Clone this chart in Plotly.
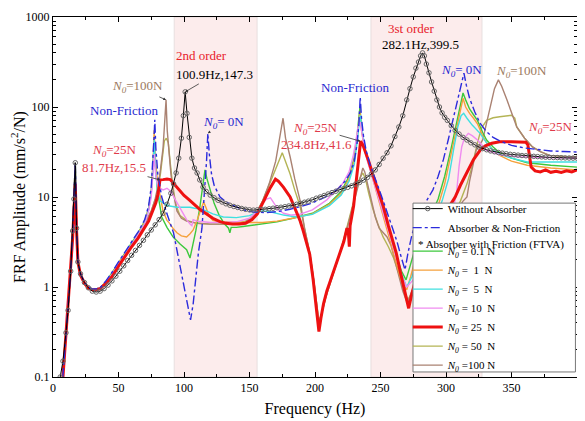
import plotly.graph_objects as go

# ---------------- data ----------------
# shared low-frequency segment of the absorber curves
f_low = [7.5, 9.9, 11.5, 13.5, 15, 16, 17, 18, 19, 21, 24, 27, 30, 33, 36]
a_low = [0.1, 0.31, 0.55, 1.5, 4.2, 9.5, 24, 4.5, 1.9, 1.4, 1.12, 1.0, 0.95, 0.95, 0.98]

f_without = [5.5, 7.6, 9.9, 11.5, 13.5, 15, 16, 17, 18, 19, 21, 24, 27, 30, 33, 36, 39, 42, 45, 48,
             51, 54, 57, 60, 63, 66, 69, 72, 75, 78, 81, 84, 87, 90, 92, 94, 96, 98, 99.5, 100.9,
             102.3, 104, 106, 108, 110, 112, 114.5, 117, 120, 123, 126, 129, 132, 135, 138, 141, 144, 147, 150, 153,
             156, 159, 162, 165, 168, 171, 174, 177, 180, 183, 186, 189, 192, 195, 198, 201, 204, 207, 210, 213,
             216, 219, 222, 225, 228, 231, 234, 237, 240, 243, 246, 249, 252, 255, 258, 261, 264, 267, 270, 272.5,
             275, 277, 279, 280.6, 282.1, 283.5, 285, 287, 289, 291, 293, 295, 297, 299, 301, 304, 307, 310, 313, 316,
             319, 322, 325, 328, 331, 334, 337, 340, 343, 346, 349, 352, 355, 358, 361, 364, 367, 370, 373, 376,
             379, 382, 385, 388, 391, 394, 397, 400]
a_without = [0.1, 0.15, 0.31, 0.55, 1.5, 4.2, 9.5, 24, 4.5, 1.9, 1.4, 1.12, 0.98, 0.9, 0.88, 0.9, 0.96, 1.05, 1.17, 1.32,
             1.5, 1.72, 1.97, 2.25, 2.55, 2.9, 3.3, 3.8, 4.3, 4.9, 5.6, 6.6, 8.3, 11, 14, 18.5, 27, 45, 80, 147.3,
             85, 46, 27, 21, 18.5, 15.5, 12.9, 11.5, 10.5, 9.8, 9.2, 8.8, 8.4, 8.1, 7.85, 7.65, 7.45, 7.3, 7.2, 7.15,
             7.2, 7.25, 7.3, 7.4, 7.5, 7.6, 7.7, 7.8, 7.95, 8.1, 8.3, 8.5, 8.75, 9.0, 9.3, 9.7, 10.0, 10.4, 10.8, 11.2,
             11.6, 12.0, 12.4, 12.8, 13.3, 13.9, 14.5, 15.4, 16.5, 18, 20, 23, 27, 31, 37, 47, 60, 80, 120, 160,
             216, 270, 316, 370, 399.5, 370, 300, 240, 190, 150, 120, 100, 86, 77, 71, 62, 55, 50, 46, 43,
             40, 38, 36, 34.5, 33.5, 32.5, 31.8, 31.2, 30.7, 30.2, 29.8, 29.5, 29.2, 28.9, 28.7, 28.5, 28.3, 28.1, 27.9, 27.7,
             27.6, 27.5, 27.4, 27.3, 27.2, 27.1, 27.05, 27]

f_nonfric = [40, 45, 50, 55, 60, 65, 70, 73, 75, 76.3, 77.2, 77.7, 78.5, 80, 83, 87, 92, 95, 98, 101,
             103, 105, 107, 109, 111, 113.7, 116, 117.2, 118.2, 119.3, 121, 123, 127.5, 132, 137, 145, 153, 163, 172, 181,
             190, 196, 204, 211, 218, 223, 227, 230, 232, 233.5, 234.5, 235.5, 237, 239, 242, 246, 250, 254, 258, 262.6,
             266, 268.7, 271, 274, 278, 284, 290, 294, 298, 302, 305.5, 309, 311.5, 313.7, 315.5, 318, 322, 326, 331, 336,
             341, 350, 360, 370, 380, 390, 400]
a_nonfric = [1.15, 1.45, 1.9, 2.45, 3.15, 4.1, 5.6, 8, 13, 25, 48, 72, 35, 18, 10, 6.5, 4, 2.4, 1.4, 0.85,
             0.6, 0.43, 0.65, 1.2, 2.4, 4.5, 12, 25, 51, 30, 18, 13.5, 10, 8.8, 8.1, 7.2, 6.8, 6.7, 6.9, 7.3,
             7.9, 8.4, 9.4, 10.5, 12.5, 15, 18.5, 25, 38, 65, 129, 75, 48, 33, 23, 15.5, 11, 7.5, 5, 3.2,
             2.1, 1.55, 2.4, 3.8, 6, 8.5, 12, 17, 26, 45, 75, 125, 170, 238, 175, 125, 88, 66, 53, 46,
             42, 37.5, 35, 33.5, 32.5, 32, 31.6]

f_n01 = [40, 45, 50, 55, 60, 65, 70, 73, 75, 76.3, 77.2, 78.2, 79.5, 81, 83, 87, 91.6, 97, 102, 104.6,
         106.5, 109, 112, 114.5, 116, 117.5, 120, 123, 127, 131, 134, 135, 136, 140, 145, 150, 160, 171, 183, 198,
         211, 220, 226, 230, 232.5, 234.3, 235.5, 237.5, 240, 243, 246, 250, 254, 258, 262, 266, 269.5, 273, 278, 284,
         289, 294, 299, 304, 308, 311, 313, 315, 318, 321, 324, 328, 331, 336, 341, 350, 362, 380, 400]
a_n01 = [1.12, 1.42, 1.85, 2.4, 3.05, 4.0, 5.4, 7.5, 11.5, 20, 36, 22, 13, 9, 6, 4.6, 3.6, 3.0, 2.6, 2.1,
         2.8, 4.2, 7.5, 14, 20, 16, 12, 8.5, 6.2, 5.0, 4.5, 4.0, 4.6, 4.6, 4.7, 4.8, 5.0, 5.3, 5.8, 6.6,
         8.5, 11.5, 17, 28, 55, 100, 60, 38, 27, 19, 13.5, 9, 6, 3.8, 2.3, 1.5, 1.2, 1.8, 3.2, 4.8,
         6.5, 9.5, 17, 35, 65, 105, 143, 120, 95, 82, 71, 52, 43, 36, 31, 27, 24, 22.5, 21.5]

f_n1 = [40, 45, 50, 55, 60, 65, 70, 73, 75, 76.3, 77.2, 78.3, 80, 82, 84, 87, 89, 92, 94.6, 98,
        102, 104.6, 107, 110, 113, 115, 117, 119, 122, 126, 130, 140, 150, 160, 171, 183, 198, 211, 220, 226,
        230, 232.5, 234.3, 235.5, 237.5, 240, 243, 246, 250, 254, 258, 262, 266, 270, 273, 278, 284, 289, 294, 299,
        304, 308, 311, 313, 315, 318, 321, 324, 328, 331, 336, 341, 350, 362, 380, 400]
a_n1 = [1.12, 1.4, 1.85, 2.35, 3.0, 3.95, 5.3, 7.4, 11.5, 22, 55, 25, 14, 10, 7, 5.5, 5.1, 4.4, 4.0, 3.7,
        3.6, 3.9, 4.3, 5.5, 7.5, 8.8, 7.5, 6.2, 5.5, 5.3, 5.3, 5.2, 5.2, 5.2, 5.4, 5.8, 6.5, 8.3, 11, 16,
        26, 50, 90, 55, 36, 26, 18, 12.5, 8, 5, 3, 1.8, 1.15, 0.93, 1.3, 2.5, 4, 5.5, 8, 14,
        30, 60, 95, 125, 100, 85, 75, 65, 48, 40, 33, 29, 25, 22.5, 21, 20]

f_n5 = [40, 45, 50, 55, 60, 65, 70, 73, 75, 76.3, 77.3, 78.3, 80, 82, 84, 88, 94.6, 100, 104.6, 108,
        112, 117, 122, 130, 140, 150, 158, 165, 176, 186, 198, 211, 220, 226, 230, 232.5, 234.5, 236, 238, 240,
        243, 246, 250, 254, 258, 262, 266, 270, 274, 280, 286, 292, 297, 302, 306, 309, 311.5, 313.5, 316, 320,
        326, 331, 336, 341, 350, 362, 380, 400]
a_n5 = [1.1, 1.38, 1.8, 2.3, 2.95, 3.85, 5.1, 7.2, 11, 20, 43, 20, 11, 9, 8.6, 8, 7.7, 7.7, 7.7, 7.5,
        7.4, 7, 6.5, 6.0, 5.9, 6.2, 7.0, 6.9, 6.3, 6.0, 6.4, 8, 10.5, 15, 23, 45, 81, 55, 36, 27,
        19, 13.5, 9, 5.8, 3.6, 2.2, 1.4, 1.0, 1.3, 2.3, 3.8, 6, 9, 16, 35, 60, 80, 85, 75, 63,
        51, 40, 33, 30, 27, 24.5, 24.5, 24.5]

f_n10 = [40, 45, 50, 55, 60, 65, 70, 73, 75, 76.3, 77.3, 78.3, 80, 82, 84, 87, 90, 94, 98, 102,
         104.6, 106, 107, 110, 115, 120, 130, 140, 150, 156, 160, 163, 166, 169, 172, 176, 182, 188, 198, 209,
         221, 226, 229, 231, 233, 234.5, 236, 238, 240, 243, 246, 250, 254, 258, 262, 266, 270, 275, 285, 295,
         303, 306, 308, 310, 312, 314, 317, 320, 324, 331, 341, 354, 370, 400]
a_n10 = [1.1, 1.37, 1.78, 2.28, 2.9, 3.8, 5.0, 7.0, 10, 17, 30, 18, 13, 12.5, 12, 12.5, 11.5, 9, 7, 5.6,
         5.0, 4.8, 5.6, 5.4, 5.3, 5.2, 5.2, 5.3, 5.8, 7, 8.5, 9.5, 9.8, 8.5, 7.2, 6.6, 6.3, 6.4, 7.2, 9.3,
         14, 19, 28, 40, 62, 68, 48, 33, 25, 18, 12.5, 8.5, 5.5, 3.4, 2.1, 1.35, 1.0, 1.2, 2.0, 3.5,
         5.5, 8, 11, 22, 36, 45, 51, 48, 43, 33, 29.5, 28, 27.5, 27]

f_n25 = [7.6, 9.9, 11.5, 13.5, 15, 16, 17, 18, 19, 21, 24, 27, 30, 33, 36, 40, 45, 50, 55, 60,
         65, 70, 73, 75, 77, 78.5, 80, 81.7, 84, 87, 89.5, 91.5, 94, 97, 100, 104, 108, 112, 117, 122,
         127, 132, 137, 142, 147, 152, 156, 160, 163, 166, 169.8, 172, 176, 181, 185, 188.5, 191, 194, 196, 198.6,
         200.5, 202, 203, 204.5, 206.5, 209, 212, 215, 219, 222, 224.4, 225.5, 226.2, 226.8, 228, 229.5, 231, 232.5, 233.8, 234.8,
         236.5, 238.5, 241, 244, 248, 252, 256, 259, 262, 265, 268, 271.5, 274, 278, 283, 288, 294, 300, 304, 307,
         311, 316, 321, 326, 330, 335, 341, 350, 356, 361, 362.5, 364, 365, 368, 372, 376, 380, 384, 388, 392,
         396, 400]
a_n25 = [0.1, 0.3, 0.55, 1.4, 3.5, 7, 14, 4.2, 1.9, 1.35, 1.1, 0.97, 0.93, 0.93, 0.96, 1.08, 1.3, 1.7, 2.2, 2.8,
         3.5, 4.5, 5.4, 6.4, 7.4, 8.6, 10.5, 15.5, 15.6, 15.8, 15.6, 14.5, 13, 11.6, 10.4, 9.3, 8.2, 7.3, 6.5, 5.8,
         5.35, 5.1, 5.0, 5.0, 5.1, 5.6, 6.5, 8.6, 10.5, 12.8, 15.8, 15, 12.8, 10, 7.3, 5.5, 4.2, 3.0, 2.3, 1.2,
         0.7, 0.45, 0.32, 0.45, 0.65, 0.9, 1.2, 1.6, 2.3, 3.2, 4.5, 4.0, 2.8, 4.8, 6, 8, 13, 22, 35, 41.6,
         38, 32, 25, 18, 12, 8, 4.8, 3.3, 2.4, 1.5, 0.95, 0.58, 0.85, 1.4, 2.2, 3.3, 4.8, 6.5, 8.5, 10,
         13.5, 18.5, 26, 33, 37, 39.5, 41, 41, 41, 40.5, 38, 26, 21.5, 19.5, 19, 20, 18.8, 19.3, 18.7, 19.5,
         19, 20]

f_n50 = [40, 45, 50, 55, 60, 65, 70, 75, 78, 80, 82, 83.5, 85, 86.5, 88, 89.5, 91.5, 94, 97, 102,
         110, 120, 130, 140, 147, 152, 156, 160, 165, 168, 171, 173, 175, 177, 179, 181, 184.5, 188.5, 192, 196,
         199, 201, 203, 205, 208, 212, 216, 220, 224, 228, 231, 234, 236.5, 238.5, 241, 244, 248, 252, 256, 260,
         264, 268, 271, 276, 284, 294, 304, 311, 316, 320, 324, 327, 331, 336, 341, 346, 350, 352.5, 354, 360,
         366, 372, 379, 390, 400]
a_n50 = [1.1, 1.38, 1.8, 2.3, 2.95, 3.8, 5.0, 7.0, 9.3, 12, 18, 30, 42, 45, 40, 24, 13, 8, 6.2, 5.5,
         5.1, 5.0, 5.0, 5.1, 5.4, 6.0, 7.0, 9, 13.5, 17.5, 21.5, 26, 31, 26, 21.5, 18, 12, 8, 4.5, 2.4,
         1.2, 0.7, 0.42, 0.5, 0.75, 1.15, 1.75, 2.7, 4.4, 7.5, 11.5, 16, 18.5, 16, 11, 7.5, 5, 3.6, 2.8, 2.1,
         1.4, 0.9, 0.72, 1.0, 1.8, 3.3, 5.8, 9, 14, 22, 40, 58, 71, 76, 78, 80, 81, 75, 60, 45,
         36, 32, 29, 28.3, 28]

f_n100 = [40, 45, 50, 55, 60, 65, 70, 75, 78, 80, 82, 84, 85.3, 86.3, 87.2, 88.5, 90, 92, 94.6, 98,
          102, 110, 120, 130, 140, 147, 152, 156, 160, 165, 170, 173, 175.6, 177.5, 181, 184.5, 188.5, 192, 196, 199,
          201, 203, 205, 208, 212, 216, 220, 224, 228, 231, 234, 236.5, 238, 240, 243, 246, 249, 252, 255, 258,
          261, 264, 267, 270.5, 274, 280, 290, 300, 308, 313, 316, 318, 323, 328, 331, 333.6, 337, 340, 342.5, 346.5,
          350, 354, 360, 366, 372, 379, 390, 400]
a_n100 = [1.1, 1.38, 1.8, 2.3, 2.95, 3.8, 5.0, 7.0, 9.5, 13, 20, 35, 70, 120, 55, 30, 18, 11, 7, 5.8,
          5.4, 5.1, 5.0, 5.0, 5.05, 5.3, 5.9, 7, 9, 14, 25, 45, 75, 45, 28, 16, 9.3, 4.5, 2.4, 1.2,
          0.7, 0.4, 0.5, 0.75, 1.15, 1.7, 2.6, 4.2, 7, 11, 16, 21, 19, 14, 9, 6, 4.5, 4.0, 3.6, 2.9,
          2.0, 1.3, 0.9, 0.66, 0.9, 1.4, 2.5, 4.2, 7, 9, 10, 15, 33, 43, 65, 100, 160, 200, 170, 120,
          85, 60, 45, 36, 32, 29, 28.3, 28]

series_names = ["<i>N</i><sub><i>0</i></sub>\u00a0= 0.1 N",
                "<i>N</i><sub><i>0</i></sub>\u00a0=\u00a0\u00a01\u00a0\u00a0N",
                "<i>N</i><sub><i>0</i></sub>\u00a0=\u00a0\u00a05\u00a0\u00a0N",
                "<i>N</i><sub><i>0</i></sub>\u00a0= 10\u00a0\u00a0N",
                "<i>N</i><sub><i>0</i></sub>\u00a0= 25\u00a0\u00a0N",
                "<i>N</i><sub><i>0</i></sub>\u00a0= 50\u00a0\u00a0N",
                "<i>N</i><sub><i>0</i></sub>\u00a0=100 N"]

x_ticks = [0, 50, 100, 150, 200, 250, 300, 350, 400]
y_ticks = [0.1, 1, 10, 100, 1000]
y_ticktext = ["0.1", "1", "10", "100", "1000"]

# ---------------- figure ----------------
FONT = "Liberation Serif"
fig = go.Figure()

friction = [
    (f_n01, a_n01, "#3cc83c", 1.4),
    (f_n1, a_n1, "#f5a13c", 1.4),
    (f_n5, a_n5, "#40e0e0", 1.4),
    (f_n10, a_n10, "#f08cf0", 1.4),
    (f_n25, a_n25, "#ee1111", 3.0),
    (f_n50, a_n50, "#b4b455", 1.4),
    (f_n100, a_n100, "#aa8272", 1.4),
]
draw_order = [5, 6, 0, 1, 2, 3, 4]
for i in draw_order:
    fx, fy, col, w = friction[i]
    if fx[0] > 20:
        fx = f_low + fx
        fy = a_low + fy
    fig.add_trace(go.Scatter(x=fx, y=fy, mode="lines", name=series_names[i],
                             line=dict(color=col, width=w), legend="legend2",
                             legendrank=10 + i, hoverinfo="skip"))

fig.add_trace(go.Scatter(x=f_low + f_nonfric, y=a_low + a_nonfric, mode="lines",
                         name="Absorber & Non-Friction",
                         line=dict(color="#2b2bdc", width=1.4, dash="dashdot"),
                         legend="legend", legendrank=2))
fig.add_trace(go.Scatter(x=f_without, y=a_without, mode="lines+markers",
                         name="Without Absorber",
                         line=dict(color="black", width=1),
                         marker=dict(symbol="circle-open", size=4.5, color="#666666",
                                     line=dict(width=1)),
                         legend="legend", legendrank=1))

# shaded order regions
for x0, x1 in [(92.5, 155.8), (242.7, 327.5)]:
    fig.add_shape(type="rect", xref="x", yref="paper", x0=x0, x1=x1, y0=0, y1=1,
                  fillcolor="#fcecec", line=dict(color="#e2dada", width=0.8), layer="below")

# legend frame
fig.add_shape(type="rect", xref="paper", yref="paper", x0=0.687, x1=0.997, y0=0.014, y1=0.483,
              fillcolor="white", line=dict(color="#777777", width=1), layer="above")

legend_font = dict(family=FONT, size=11, color="black")
# header line of the friction group inside the legend frame
fig.add_annotation(xref="paper", yref="paper", x=0.693, y=0.367, xanchor="left", yanchor="middle",
                   text="* Absorber with Friction (FTVA)", showarrow=False, font=legend_font)

RED = "#e8202a"
RED2 = "#e03a4a"
BLUE = "#2828d0"
BROWN = "#9c7a5e"
N0 = "<i>N</i><sub><i>0</i></sub>"
ann = [
    dict(text="2nd order", x=113, y=2.567, color=RED),
    dict(text="100.9Hz,147.3", x=100.9, y=2.168, color="black", ax=29, ay=-17),
    dict(text=N0 + "=100N", x=86.3, y=2.079, color=BROWN, ax=-29, ay=-13),
    dict(text="Non-Friction", x=77.7, y=1.857, color=BLUE, ax=-31, ay=-9),
    dict(text=N0 + "=25N", x=47.3, y=1.522, color=RED2),
    dict(text="81.7Hz,15.5", x=81.7, y=1.190, color=RED2, ax=-46, ay=-12),
    dict(text=N0 + "= 0N", x=118.2, y=1.708, color=BLUE, ax=16, ay=-11),
    dict(text="Non-Friction", x=230.5, y=2.222, color=BLUE),
    dict(text=N0 + "=25N", x=234.8, y=1.619, color=RED2, ax=-45, ay=-13),
    dict(text="234.8Hz,41.6", x=201.5, y=1.578, color=RED2),
    dict(text="3st order", x=274, y=2.867, color=RED),
    dict(text="282.1Hz,399.5", x=280.2, y=2.689, color="black"),
    dict(text=N0 + "= 0N", x=311.5, y=2.411, color=BLUE),
    dict(text=N0 + "=100N", x=358, y=2.40, color=BROWN),
    dict(text=N0 + "=25N", x=379.4, y=1.767, color=RED2),
]
for a in ann:
    has_arrow = "ax" in a
    fig.add_annotation(x=a["x"], y=a["y"], xref="x", yref="y", text=a["text"],
                       showarrow=has_arrow, ax=a.get("ax", 0), ay=a.get("ay", 0),
                       arrowhead=2, arrowsize=0.7, arrowwidth=0.8, arrowcolor="#333333",
                       font=dict(family=FONT, size=13, color=a["color"]))

axis_common = dict(showline=True, linecolor="black", linewidth=1, mirror="ticks",
                   ticks="inside", ticklen=5, tickcolor="black", showgrid=False, zeroline=False,
                   tickfont=dict(family=FONT, size=12, color="black"))

fig.update_xaxes(range=[0, 400], tickvals=x_ticks,
                 minor=dict(dtick=25, tick0=0, ticks="inside", ticklen=3, tickcolor="black"),
                 title=dict(text="Frequency (Hz)", font=dict(family=FONT, size=16, color="black"),
                            standoff=8),
                 **axis_common)
fig.update_yaxes(type="log", range=[-1, 3], tickvals=y_ticks, ticktext=y_ticktext,
                 minor=dict(tickvals=[0.2, 0.3, 0.4, 0.5, 0.6, 0.7, 0.8, 0.9,
                                      2, 3, 4, 5, 6, 7, 8, 9, 20, 30, 40, 50, 60, 70, 80, 90,
                                      200, 300, 400, 500, 600, 700, 800, 900],
                            ticks="inside", ticklen=3, tickcolor="black"),
                 title=dict(text="FRF Amplitude (mm/s<sup>2</sup>/N)",
                            font=dict(family=FONT, size=16, color="black"), standoff=0),
                 **axis_common)

fig.update_layout(
    width=577, height=413,
    margin=dict(l=45, r=8, t=9, b=44, autoexpand=False),
    paper_bgcolor="white", plot_bgcolor="white",
    showlegend=True,
    legend=dict(x=0.677, y=0.508, xanchor="left", yanchor="top", bgcolor="rgba(0,0,0,0)",
                font=legend_font, tracegroupgap=0, itemwidth=30, borderwidth=0),
    legend2=dict(x=0.677, y=0.390, xanchor="left", yanchor="top", bgcolor="rgba(0,0,0,0)",
                 font=legend_font, tracegroupgap=0, itemwidth=30, borderwidth=0),
    font=dict(family=FONT, color="black"),
)

fig.write_html("out.html")
